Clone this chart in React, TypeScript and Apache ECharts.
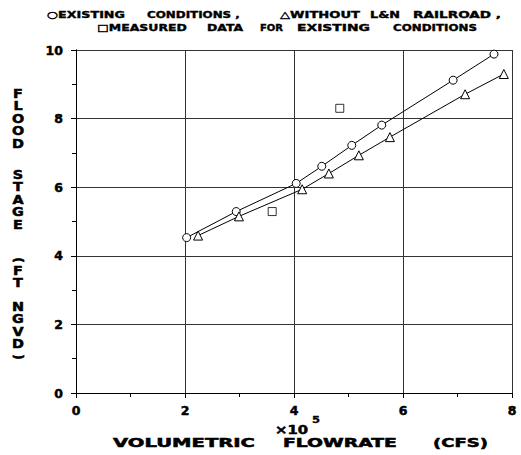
import React, { useEffect, useRef } from "react";
import * as echarts from "echarts";

// ---- data ----
const existingX = [2.03, 2.94, 4.04, 4.51, 5.06, 5.61, 6.92, 7.67];
const existingY = [4.53, 5.29, 6.11, 6.61, 7.22, 7.81, 9.12, 9.88];
const withoutX = [2.24, 2.99, 4.15, 4.64, 5.19, 5.76, 7.14, 7.85];
const withoutY = [4.59, 5.15, 5.94, 6.4, 6.93, 7.46, 8.71, 9.3];
const measuredX = [3.6, 4.84];
const measuredY = [5.29, 8.3];

const legendLine1 = ["○EXISTING", "CONDITIONS ,", "△WITHOUT", "L&N", "RAILROAD ,"];
const legendLine2 = ["□MEASURED", "DATA", "FOR", "EXISTING", "CONDITIONS"];
const xTitleWords = ["VOLUMETRIC", "FLOWRATE", "(CFS)"];
const yTitleWords = ["FLOOD", "STAGE", "FT", "NGVD"];
const yTitleParens = ["(", ")"];
const xMultiplier = "×10";
const xExponent = "5";

const FONT = "'DejaVu Sans', sans-serif";

let measureCtx: CanvasRenderingContext2D | null = null;
function measure(text: string, size: number): number {
  if (!measureCtx) {
    const c = document.createElement("canvas");
    measureCtx = c.getContext("2d");
  }
  if (!measureCtx) return text.length * size * 0.7;
  measureCtx.font = `bold ${size}px ${FONT}`;
  return measureCtx.measureText(text).width;
}

function fitText(text: string, x: number, y: number, w: number, size: number, sw = 0.4) {
  const mw = measure(text, size) || 1;
  return {
    type: "text",
    x,
    y,
    scaleX: w / mw,
    silent: true,
    style: {
      text,
      fontSize: size,
      fontWeight: "bold",
      fontFamily: FONT,
      fill: "#000",
      stroke: "#000",
      lineWidth: sw,
      textAlign: "left",
      textVerticalAlign: "middle",
    },
  };
}

function stacked(word: string, cx: number, top: number, pitch: number, size: number) {
  return {
    type: "text",
    x: cx,
    y: top,
    scaleX: 1.25,
    silent: true,
    style: {
      text: word.split("").join("\n"),
      fontSize: size,
      fontWeight: "bold",
      fontFamily: FONT,
      lineHeight: pitch,
      fill: "#000",
      stroke: "#000",
      lineWidth: 0.5,
      textAlign: "center",
      textVerticalAlign: "top",
    },
  };
}

function paren(ch: string, cx: number, cy: number) {
  return {
    type: "text",
    x: cx,
    y: cy,
    rotation: -Math.PI / 2,
    silent: true,
    style: {
      text: ch,
      fontSize: 12,
      fontWeight: "bold",
      fontFamily: FONT,
      fill: "#000",
      stroke: "#000",
      lineWidth: 0.6,
      textAlign: "center",
      textVerticalAlign: "middle",
    },
  };
}

export default function App() {
  const ref = useRef<HTMLDivElement>(null);

  useEffect(() => {
    if (!ref.current) return;
    const chart = echarts.init(ref.current, undefined, { renderer: "svg" });

    // layout for words: [left, width]
    const l1: [number, number][] = [
      [47, 78],
      [147, 93],
      [280, 80],
      [370, 30],
      [413, 88],
    ];
    const l2: [number, number][] = [
      [97, 90],
      [207, 36],
      [260, 23],
      [297, 73],
      [393, 84],
    ];
    const xt: [number, number][] = [
      [113, 142],
      [283, 114],
      [433, 55],
    ];
    const yt: number[] = [87.5, 168.5, 264.5, 300.5];
    const parenY: number[] = [260, 357];

    const graphics: any[] = [];
    legendLine1.forEach((w, i) => graphics.push(fitText(w, l1[i][0], 15, l1[i][1], 9.5)));
    legendLine2.forEach((w, i) => graphics.push(fitText(w, l2[i][0], 28, l2[i][1], 9.5)));
    xTitleWords.forEach((w, i) => graphics.push(fitText(w, xt[i][0], 443, xt[i][1], 11.5, 0.5)));
    yTitleWords.forEach((w, i) => graphics.push(stacked(w, 18, yt[i], 12.5, 11.5)));
    yTitleParens.forEach((p, i) => graphics.push(paren(p, 18, parenY[i])));
    graphics.push(fitText(xMultiplier, 275, 430, 33, 12, 0.5));
    graphics.push(fitText(xExponent, 312, 420, 8, 9, 0.3));

    const axisCommon = {
      axisLine: { show: true, lineStyle: { color: "#000", width: 1 } },
      axisTick: { show: true, length: 5, lineStyle: { color: "#000", width: 1 } },
      minorTick: { show: true, splitNumber: 2, length: 4, lineStyle: { color: "#000", width: 1 } },
      splitLine: { show: true, lineStyle: { color: "#333", width: 1 } },
      axisLabel: {
        color: "#000",
        fontSize: 12.5,
        fontWeight: "bold",
        fontFamily: FONT,
        textBorderColor: "#000",
        textBorderWidth: 0.5,
      },
    };

    chart.setOption({
      animation: false,
      backgroundColor: "#fff",
      grid: { left: 76, right: 9, top: 50, bottom: 62, containLabel: false },
      graphic: graphics,
      xAxis: [
        {
          type: "value",
          min: 0,
          max: 8,
          interval: 2,
          ...axisCommon,
          axisLabel: { ...axisCommon.axisLabel, margin: 11 },
        },
        {
          type: "value",
          position: "top",
          min: 0,
          max: 8,
          interval: 2,
          axisLine: { show: true, lineStyle: { color: "#000", width: 1 } },
          axisTick: { show: false },
          axisLabel: { show: false },
          splitLine: { show: false },
        },
      ],
      yAxis: [
        {
          type: "value",
          min: 0,
          max: 10,
          interval: 2,
          ...axisCommon,
          axisLabel: { ...axisCommon.axisLabel, margin: 13 },
        },
        {
          type: "value",
          position: "right",
          min: 0,
          max: 10,
          interval: 2,
          axisLine: { show: true, lineStyle: { color: "#000", width: 1 } },
          axisTick: { show: false },
          axisLabel: { show: false },
          splitLine: { show: false },
        },
      ],
      series: [
        {
          name: "EXISTING CONDITIONS",
          type: "line",
          data: existingX.map((x, i) => [x, existingY[i]]),
          symbol: "circle",
          symbolSize: 8,
          lineStyle: { color: "#000", width: 1 },
          itemStyle: { color: "#fff", borderColor: "#000", borderWidth: 1 },
          z: 3,
        },
        {
          name: "WITHOUT L&N RAILROAD",
          type: "line",
          data: withoutX.map((x, i) => [x, withoutY[i]]),
          symbol: "triangle",
          symbolSize: 9,
          lineStyle: { color: "#000", width: 1 },
          itemStyle: { color: "#fff", borderColor: "#000", borderWidth: 1 },
          z: 3,
        },
        {
          name: "MEASURED DATA FOR EXISTING CONDITIONS",
          type: "scatter",
          data: measuredX.map((x, i) => [x, measuredY[i]]),
          symbol: "rect",
          symbolSize: 8,
          itemStyle: { color: "#fff", borderColor: "#000", borderWidth: 1 },
          z: 3,
        },
      ],
    });

    return () => chart.dispose();
  }, []);

  return (
    <div
      ref={ref}
      style={{ position: "fixed", left: 0, top: 0, width: 521, height: 455, background: "#fff" }}
    />
  );
}
